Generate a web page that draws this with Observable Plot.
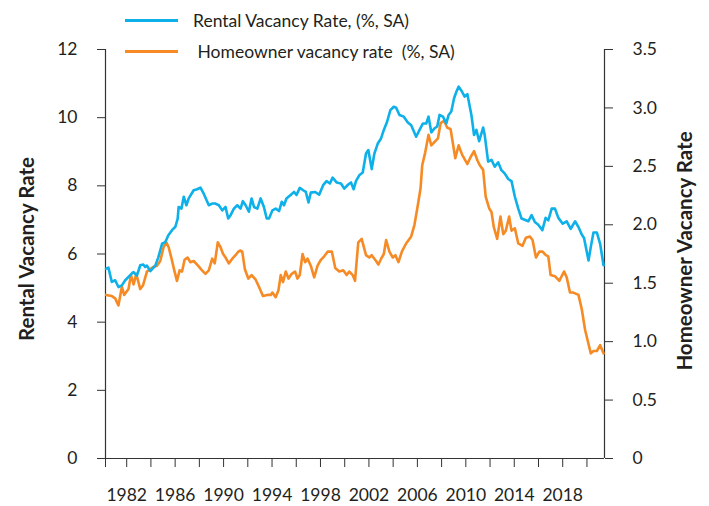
<!DOCTYPE html>
<html>
<head>
<meta charset="utf-8">
<script src="https://cdn.jsdelivr.net/npm/d3@7"></script>
<script src="https://cdn.jsdelivr.net/npm/@observablehq/plot@0.6"></script>
<style>
  html, body { margin: 0; padding: 0; background: #fff; }
  #wrap { position: relative; width: 709px; height: 506px; font-family: Lato, "Open Sans", sans-serif; color: #231f20; }
  #wrap svg { position: absolute; left: 0; top: 0; }
  .legend { position: absolute; display: flex; align-items: center; font-size: 17.5px; line-height: 21px; white-space: pre; }
  .legend .sw { display: inline-block; width: 53px; height: 3px; margin-right: 15px; }
  .ytitle { position: absolute; transform: translate(-50%, -50%) rotate(-90deg); white-space: nowrap; font-weight: bold; font-size: 20.5px; }
</style>
</head>
<body>
<div id="wrap"></div>
<script>
// Rental vacancy rate (%, SA) — left axis
const rentalYear = [1980.30,1980.49,1980.77,1981.05,1981.32,1981.60,1981.88,1982.29,1982.54,1982.85,1983.12,1983.37,1983.53,1983.67,1983.95,1984.36,1984.61,1984.92,1985.19,1985.44,1985.74,1986.02,1986.21,1986.29,1986.52,1986.71,1986.93,1987.12,1987.53,1987.82,1988.09,1988.36,1988.78,1989.06,1989.33,1989.61,1989.89,1990.16,1990.38,1990.58,1990.85,1991.13,1991.40,1991.59,1991.82,1992.09,1992.31,1992.51,1992.79,1993.06,1993.33,1993.56,1993.75,1994.03,1994.30,1994.58,1994.80,1994.99,1995.19,1995.46,1995.82,1996.02,1996.29,1996.57,1996.79,1997.01,1997.20,1997.56,1997.89,1998.22,1998.50,1998.78,1999.00,1999.33,1999.69,1999.96,2000.29,2000.52,2000.74,2000.93,2001.20,2001.49,2001.76,2001.95,2002.23,2002.45,2002.73,2003.00,2003.23,2003.50,2003.77,2004.05,2004.25,2004.52,2004.88,2005.21,2005.49,2005.90,2006.18,2006.46,2006.73,2006.92,2007.15,2007.42,2007.64,2007.83,2008.11,2008.39,2008.58,2008.80,2009.03,2009.22,2009.41,2009.69,2009.90,2010.13,2010.46,2010.68,2010.87,2011.10,2011.29,2011.43,2011.56,2011.84,2012.12,2012.39,2012.67,2012.94,2013.22,2013.50,2013.77,2014.05,2014.33,2014.60,2014.96,2015.16,2015.43,2015.70,2015.98,2016.32,2016.59,2016.81,2017.09,2017.36,2017.64,2018.00,2018.33,2018.66,2019.02,2019.30,2019.57,2019.76,2020.13,2020.32,2020.54,2020.82,2021.09,2021.37];
const rentalRate = [5.57,5.60,5.18,5.23,5.03,5.08,5.23,5.38,5.47,5.37,5.67,5.69,5.62,5.66,5.50,5.66,5.90,6.30,6.35,6.55,6.70,6.80,7.04,7.38,7.33,7.68,7.43,7.63,7.87,7.90,7.95,7.77,7.43,7.48,7.48,7.43,7.28,7.38,7.04,7.14,7.33,7.43,7.33,7.55,7.43,7.24,7.63,7.38,7.33,7.63,7.38,7.04,7.04,7.28,7.33,7.26,7.53,7.43,7.63,7.71,7.82,7.73,7.94,7.87,7.82,7.51,7.80,7.82,7.74,8.02,8.14,8.07,8.24,8.10,8.07,7.92,8.04,8.10,7.90,8.14,8.31,8.39,8.95,9.05,8.49,8.95,9.24,9.39,9.64,9.88,10.22,10.32,10.29,10.08,10.03,9.86,9.78,9.44,9.64,9.83,9.83,10.03,9.57,9.69,9.74,10.08,10.03,9.83,10.08,10.18,10.57,10.76,10.91,10.76,10.62,10.69,10.08,9.49,9.64,9.31,9.54,9.71,9.49,8.71,8.76,8.56,8.69,8.46,8.36,8.20,8.14,7.68,7.33,7.04,6.99,6.96,7.14,6.94,6.86,6.70,7.06,6.99,7.33,7.33,7.06,6.89,6.96,6.74,6.96,6.79,6.57,6.47,5.81,6.21,6.63,6.63,6.30,5.67];

// Homeowner vacancy rate (%, SA) — right axis
const ownerYear = [1980.30,1980.77,1981.05,1981.32,1981.60,1981.79,1982.15,1982.35,1982.57,1982.79,1983.12,1983.34,1983.67,1983.95,1984.22,1984.50,1984.77,1985.05,1985.27,1985.46,1985.68,1985.93,1986.15,1986.37,1986.57,1986.78,1987.03,1987.25,1987.53,1987.89,1988.22,1988.50,1988.78,1989.06,1989.27,1989.52,1989.74,1989.96,1990.16,1990.43,1990.72,1990.99,1991.21,1991.40,1991.54,1991.76,1992.04,1992.31,1992.65,1992.92,1993.25,1993.62,1993.89,1994.03,1994.30,1994.53,1994.72,1994.91,1995.13,1995.36,1995.63,1995.90,1996.10,1996.29,1996.52,1996.73,1996.93,1997.20,1997.48,1997.76,1998.03,1998.31,1998.59,1998.94,1999.22,1999.55,1999.88,2000.16,2000.38,2000.66,2000.85,2001.12,2001.40,2001.76,2002.03,2002.23,2002.59,2002.78,2003.06,2003.23,2003.42,2003.69,2003.97,2004.19,2004.44,2004.72,2005.07,2005.49,2005.76,2006.04,2006.26,2006.40,2006.65,2006.92,2007.15,2007.42,2007.70,2007.92,2008.20,2008.47,2008.74,2009.13,2009.41,2009.69,2010.13,2010.40,2010.68,2010.96,2011.15,2011.43,2011.64,2011.93,2012.12,2012.31,2012.59,2012.86,2013.09,2013.30,2013.58,2013.77,2014.05,2014.33,2014.68,2014.96,2015.29,2015.51,2015.79,2016.07,2016.34,2016.61,2016.81,2017.00,2017.36,2017.72,2018.11,2018.33,2018.60,2018.88,2019.30,2019.57,2019.85,2020.13,2020.32,2020.54,2020.82,2021.09,2021.37];
const ownerRate = [1.40,1.39,1.37,1.31,1.47,1.40,1.45,1.57,1.49,1.58,1.45,1.48,1.60,1.62,1.64,1.65,1.69,1.81,1.85,1.81,1.72,1.61,1.52,1.61,1.60,1.70,1.72,1.68,1.69,1.65,1.61,1.58,1.61,1.71,1.67,1.85,1.81,1.75,1.72,1.67,1.71,1.74,1.77,1.78,1.77,1.62,1.54,1.57,1.53,1.47,1.39,1.40,1.40,1.42,1.38,1.44,1.57,1.51,1.60,1.54,1.58,1.60,1.54,1.57,1.75,1.68,1.71,1.65,1.55,1.65,1.70,1.73,1.77,1.77,1.63,1.60,1.61,1.57,1.60,1.57,1.52,1.85,1.88,1.74,1.72,1.74,1.69,1.66,1.72,1.75,1.87,1.77,1.72,1.74,1.68,1.77,1.84,1.90,2.00,2.17,2.31,2.51,2.62,2.77,2.68,2.71,2.74,2.87,2.89,2.83,2.82,2.57,2.68,2.60,2.52,2.58,2.63,2.55,2.51,2.47,2.24,2.14,2.11,1.98,1.88,2.07,1.92,1.95,2.07,1.95,1.97,1.84,1.82,1.89,1.90,1.87,1.72,1.77,1.77,1.74,1.73,1.57,1.56,1.52,1.60,1.55,1.42,1.42,1.40,1.28,1.10,0.98,0.90,0.92,0.92,0.97,0.90];

const xDomain = [1980.25, 2021.45];
const leftTicks = [0, 2, 4, 6, 8, 10, 12];
const rightTicks = [0, 0.5, 1.0, 1.5, 2.0, 2.5, 3.0, 3.5];
const xTicks = [1982, 1984, 1986, 1988, 1990, 1992, 1994, 1996, 1998, 2000, 2002, 2004, 2006, 2008, 2010, 2012, 2014, 2016, 2018, 2020];
const xLabels = [1982, 1986, 1990, 1994, 1998, 2002, 2006, 2010, 2014, 2018];
const leftMax = 12, rightMax = 3.5;

const rental = rentalYear.map((y, i) => ({year: y, rate: rentalRate[i]}));
const owner = ownerYear.map((y, i) => ({year: y, rate: ownerRate[i]}));
const toLeft = v => v * leftMax / rightMax;

const BLUE = "#0DB0E8", ORANGE = "#F68A24", INK = "#231f20";

const chart = Plot.plot({
  width: 709, height: 506,
  marginLeft: 105, marginRight: 105, marginTop: 49, marginBottom: 48,
  style: {fontFamily: "Lato, 'Open Sans', sans-serif", fontSize: "17.5px", color: INK, background: "transparent"},
  x: {domain: xDomain},
  y: {domain: [0, leftMax]},
  marks: [
    Plot.ruleX([xDomain[0], xDomain[1]], {stroke: "#333", strokeWidth: 1.2}),
    Plot.ruleY([0], {stroke: "#333", strokeWidth: 1.2}),
    Plot.axisY(leftTicks, {anchor: "left", tickSize: 8, tickPadding: 20, fontSize: 17.5, label: null, stroke: "#333"}),
    Plot.axisY(rightTicks.map(toLeft), {anchor: "right", tickSize: 8, tickPadding: 20, fontSize: 17.5, label: null, stroke: "#333",
      tickFormat: d => { const v = Math.round(d * rightMax / leftMax * 10) / 10; return v === 0 ? "0" : v.toFixed(1); }}),
    Plot.axisX([xDomain[0], ...xTicks], {anchor: "bottom", tickSize: 9, tickPadding: 21, fontSize: 17.5, label: null, stroke: "#333",
      tickFormat: d => xLabels.includes(d) ? String(d) : ""}),
    Plot.line(owner, {x: "year", y: d => toLeft(d.rate), stroke: ORANGE, strokeWidth: 2.6}),
    Plot.line(rental, {x: "year", y: "rate", stroke: BLUE, strokeWidth: 2.6})
  ]
});

const wrap = document.getElementById("wrap");
wrap.appendChild(chart);

function legend(top, left, color, text) {
  const d = document.createElement("div");
  d.className = "legend";
  d.style.top = top + "px";
  d.style.left = left + "px";
  const sw = document.createElement("span");
  sw.className = "sw";
  sw.style.background = color;
  d.appendChild(sw);
  d.appendChild(document.createTextNode(text));
  wrap.appendChild(d);
}
legend(10, 125, BLUE, "Rental Vacancy Rate, (%, SA)");
legend(41, 125, ORANGE, " Homeowner vacancy rate  (%, SA)");

function ytitle(x, y, text) {
  const d = document.createElement("div");
  d.className = "ytitle";
  d.style.left = x + "px";
  d.style.top = y + "px";
  d.textContent = text;
  wrap.appendChild(d);
}
ytitle(26, 249, "Rental Vacancy Rate");
ytitle(684, 251, "Homeowner Vacancy Rate");
</script>
</body>
</html>
